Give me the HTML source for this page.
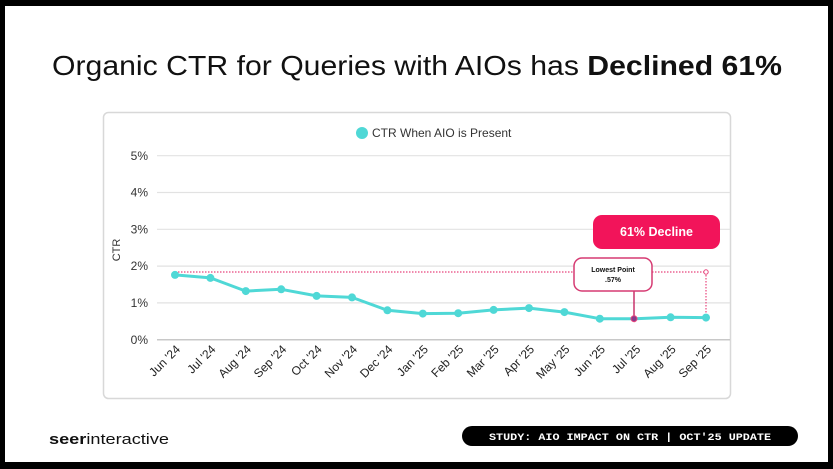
<!DOCTYPE html>
<html><head><meta charset="utf-8"><style>
html,body{margin:0;padding:0;background:#000;}
svg{display:block;font-family:"Liberation Sans",sans-serif;}
</style></head><body>
<svg width="833" height="469" viewBox="0 0 833 469" xmlns="http://www.w3.org/2000/svg">
<rect x="0" y="0" width="833" height="469" fill="#000"/>
<rect x="5" y="6" width="823" height="456" fill="#fff"/>
<text x="52" y="75" font-size="28" fill="#111" textLength="730" lengthAdjust="spacingAndGlyphs">Organic CTR for Queries with AIOs has <tspan font-weight="bold">Declined 61%</tspan></text>
<rect x="103.5" y="112.5" width="627" height="286" rx="5" fill="#fff" stroke="#d8d8d8" stroke-width="1.5"/>
<circle cx="362" cy="133" r="6" fill="#4fd8d6"/>
<text x="372" y="137" font-size="12" fill="#333">CTR When AIO is Present</text>
<g stroke="#e2e2e2" stroke-width="1.2">
<line x1="157" y1="155.7" x2="730" y2="155.7"/>
<line x1="157" y1="192.5" x2="730" y2="192.5"/>
<line x1="157" y1="229.3" x2="730" y2="229.3"/>
<line x1="157" y1="266.1" x2="730" y2="266.1"/>
<line x1="157" y1="302.9" x2="730" y2="302.9"/>
</g>
<line x1="157" y1="339.7" x2="730" y2="339.7" stroke="#c8c8c8" stroke-width="1.5"/>
<g font-size="12" fill="#333" text-anchor="end">
<text x="148" y="159.8">5%</text><text x="148" y="196.6">4%</text><text x="148" y="233.4">3%</text>
<text x="148" y="270.2">2%</text><text x="148" y="307">1%</text><text x="148" y="343.8">0%</text>
</g>
<text transform="translate(120,250) rotate(-90)" font-size="11" fill="#333" text-anchor="middle">CTR</text>
<line x1="175" y1="272" x2="706" y2="272" stroke="#e8457d" stroke-width="1.2" stroke-dasharray="1.5,1.5"/>
<line x1="706" y1="272" x2="706" y2="317" stroke="#e8457d" stroke-width="1.2" stroke-dasharray="1.5,1.5"/>
<circle cx="706" cy="272" r="2.2" fill="#fff" stroke="#e8457d" stroke-width="1"/>
<polyline fill="none" stroke="#4fd8d6" stroke-width="3" stroke-linejoin="round" points="175,274.9 210.4,277.9 245.8,291.1 281.2,289.3 316.6,295.9 352,297.4 387.4,310.3 422.8,313.6 458.2,313.2 493.6,309.9 529,308.1 564.4,312.1 599.8,318.7 635.2,318.7 670.6,317.3 706,317.6"/>
<g fill="#4fd8d6">
<circle cx="175" cy="274.9" r="4"/><circle cx="210.4" cy="277.9" r="4"/><circle cx="245.8" cy="291.1" r="4"/><circle cx="281.2" cy="289.3" r="4"/><circle cx="316.6" cy="295.9" r="4"/><circle cx="352" cy="297.4" r="4"/><circle cx="387.4" cy="310.3" r="4"/><circle cx="422.8" cy="313.6" r="4"/><circle cx="458.2" cy="313.2" r="4"/><circle cx="493.6" cy="309.9" r="4"/><circle cx="529" cy="308.1" r="4"/><circle cx="564.4" cy="312.1" r="4"/><circle cx="599.8" cy="318.7" r="4"/><circle cx="670.6" cy="317.3" r="4"/><circle cx="706" cy="317.6" r="4"/>
</g>
<line x1="634" y1="291" x2="634" y2="318" stroke="#c8326a" stroke-width="1.5"/>
<circle cx="634" cy="318.7" r="3" fill="#8a3a8a" stroke="#e8457d" stroke-width="1"/>
<rect x="574" y="258" width="78" height="33" rx="8" fill="#fff" stroke="#d63a72" stroke-width="1.5"/>
<text x="613" y="272" font-size="7" font-weight="bold" fill="#111" text-anchor="middle">Lowest Point</text>
<text x="613" y="282" font-size="7" font-weight="bold" fill="#111" text-anchor="middle">.57%</text>
<rect x="593" y="215" width="127" height="34" rx="9" fill="#f2145a"/>
<text x="656.5" y="236" font-size="12.5" font-weight="bold" fill="#fff" text-anchor="middle">61% Decline</text>
<g font-size="12" fill="#222" text-anchor="end">
<text transform="translate(181,350) rotate(-45)">Jun '24</text>
<text transform="translate(216.4,350) rotate(-45)">Jul '24</text>
<text transform="translate(251.8,350) rotate(-45)">Aug '24</text>
<text transform="translate(287.2,350) rotate(-45)">Sep '24</text>
<text transform="translate(322.6,350) rotate(-45)">Oct '24</text>
<text transform="translate(358,350) rotate(-45)">Nov '24</text>
<text transform="translate(393.4,350) rotate(-45)">Dec '24</text>
<text transform="translate(428.8,350) rotate(-45)">Jan '25</text>
<text transform="translate(464.2,350) rotate(-45)">Feb '25</text>
<text transform="translate(499.6,350) rotate(-45)">Mar '25</text>
<text transform="translate(535,350) rotate(-45)">Apr '25</text>
<text transform="translate(570.4,350) rotate(-45)">May '25</text>
<text transform="translate(605.8,350) rotate(-45)">Jun '25</text>
<text transform="translate(641.2,350) rotate(-45)">Jul '25</text>
<text transform="translate(676.6,350) rotate(-45)">Aug '25</text>
<text transform="translate(712,350) rotate(-45)">Sep '25</text>
</g>
<text x="49" y="444" font-size="15" fill="#111" textLength="120" lengthAdjust="spacingAndGlyphs"><tspan font-weight="bold">seer</tspan>interactive</text>
<rect x="462" y="426" width="336" height="20" rx="10" fill="#000"/>
<text x="630" y="440" font-size="10.5" font-weight="bold" fill="#fff" font-family="Liberation Mono,monospace" text-anchor="middle" textLength="282" lengthAdjust="spacingAndGlyphs">STUDY: AIO IMPACT ON CTR | OCT'25 UPDATE</text>
</svg>
</body></html>
